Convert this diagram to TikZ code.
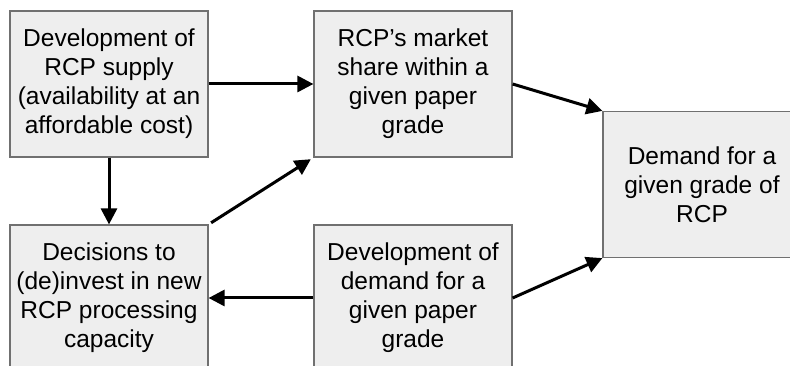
\documentclass[tikz,border=0pt]{standalone}
\usepackage{fontspec}
\setmainfont{Liberation Sans}
\usepackage{tikz}
\usetikzlibrary{arrows.meta}

\definecolor{boxfill}{HTML}{EEEEEE}
\definecolor{boxline}{HTML}{707070}

\begin{document}
\begin{tikzpicture}[x=1pt, y=1pt,
  factor/.style={draw=boxline, line width=1.2pt, fill=boxfill,
    minimum width=198pt, minimum height=146pt, inner sep=0pt,
    align=center, font=\fontsize{24.5}{29}\selectfont},
  link/.style={line width=3pt, -{Triangle[length=16pt, width=16pt]}}]
\useasboundingbox (0,0) rectangle (790,366);
\clip (0,0) rectangle (790,366);

\coordinate (pA) at (109,282); % supply
\coordinate (pB) at (413,282); % market share
\coordinate (pC) at (109,68);  % decisions
\coordinate (pD) at (413,68);  % paper demand
\coordinate (pE) at (702,181.5); % RCP demand

\node[factor] (supply) at (pA) {Development of\\RCP supply\\(availability at an\\affordable cost)};
\node[factor] (share) at (pB) {RCP’s market\\share within a\\given paper\\grade};
\node[factor] (invest) at (pC) {Decisions to\\(de)invest in new\\RCP processing\\capacity};
\node[factor] (paper) at (pD) {Development of\\demand for a\\given paper\\grade};
\node[factor] (rcp) at (pE) {Demand for a\\given grade of\\RCP};

\draw[link] (supply.east) -- (share.west);
\draw[link] (supply.south) -- (invest.north);
\draw[link, shorten <=3pt, shorten >=3pt] (invest.north east) -- (share.south west);
\draw[link] (share.east) -- (rcp.north west);
\draw[link] (paper.east) -- (rcp.south west);
\draw[link] (paper.west) -- (invest.east);
\end{tikzpicture}
\end{document}
